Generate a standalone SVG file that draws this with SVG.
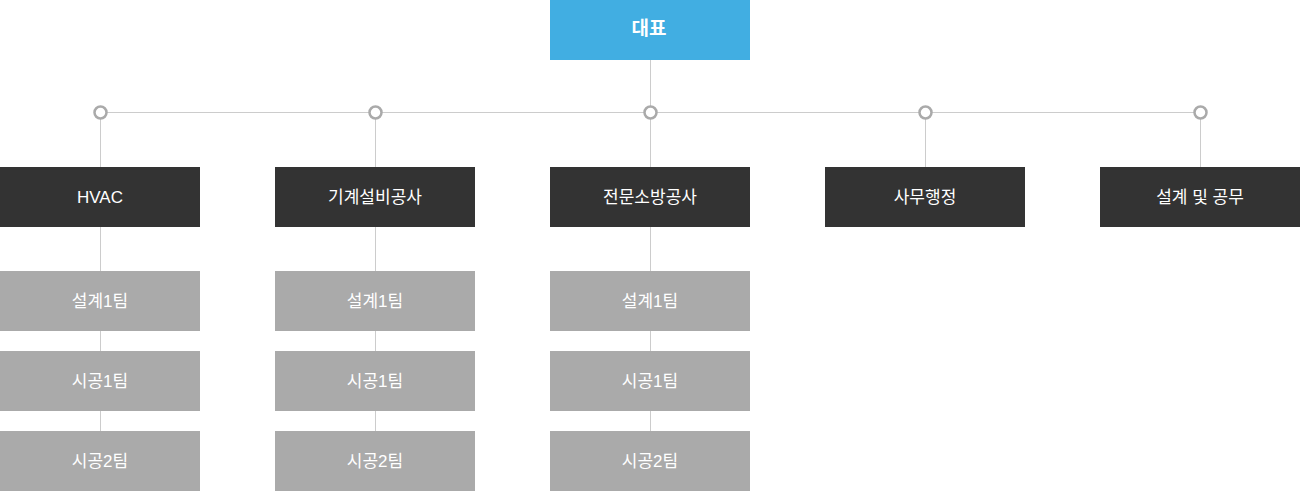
<svg xmlns="http://www.w3.org/2000/svg" width="1300" height="491" viewBox="0 0 1300 491">
<style>
.ln{stroke:#cccccc;stroke-width:1;fill:none}
.dot{fill:#ffffff;stroke:#aaaaaa;stroke-width:2.5}
.top{fill:#41aee2}
.mid{fill:#333333}
.low{fill:#aaaaaa}
text{font-family:"Liberation Sans","Noto Sans CJK KR",sans-serif;fill:#ffffff;text-anchor:middle;dominant-baseline:central;font-size:17px}
.en{font-size:17px}
.b{font-weight:bold;font-size:19px}
</style>
<rect width="1300" height="491" fill="#ffffff"/>
<g id="connectors">
<path class="ln" d="M650.5 60V167M100.5 112.5H1200.5M100.5 112.5V471M375.5 112.5V471M650.5 112.5V471M925.5 112.5V167M1200.5 112.5V167"/>
<circle class="dot" cx="100.5" cy="112.5" r="6"/>
<circle class="dot" cx="375.5" cy="112.5" r="6"/>
<circle class="dot" cx="650.5" cy="112.5" r="6"/>
<circle class="dot" cx="925.5" cy="112.5" r="6"/>
<circle class="dot" cx="1200.5" cy="112.5" r="6"/>
</g>
<g id="ceo"><rect class="top" x="550" y="0" width="200" height="60"/><text class="b" x="649" y="28">대표</text></g>
<g id="hvac"><rect class="mid" x="0" y="167" width="200" height="60"/><text class="en" x="100" y="197">HVAC</text></g>
<g id="mech"><rect class="mid" x="275" y="167" width="200" height="60"/><text x="375" y="197">기계설비공사</text></g>
<g id="fire"><rect class="mid" x="550" y="167" width="200" height="60"/><text x="650" y="197">전문소방공사</text></g>
<g id="admin"><rect class="mid" x="825" y="167" width="200" height="60"/><text x="925" y="197">사무행정</text></g>
<g id="design"><rect class="mid" x="1100" y="167" width="200" height="60"/><text x="1200" y="197">설계 및 공무</text></g>
<g id="hvac-d1"><rect class="low" x="0" y="271" width="200" height="60"/><text x="100" y="301">설계1팀</text></g>
<g id="hvac-c1"><rect class="low" x="0" y="351" width="200" height="60"/><text x="100" y="381">시공1팀</text></g>
<g id="hvac-c2"><rect class="low" x="0" y="431" width="200" height="60"/><text x="100" y="461">시공2팀</text></g>
<g id="mech-d1"><rect class="low" x="275" y="271" width="200" height="60"/><text x="375" y="301">설계1팀</text></g>
<g id="mech-c1"><rect class="low" x="275" y="351" width="200" height="60"/><text x="375" y="381">시공1팀</text></g>
<g id="mech-c2"><rect class="low" x="275" y="431" width="200" height="60"/><text x="375" y="461">시공2팀</text></g>
<g id="fire-d1"><rect class="low" x="550" y="271" width="200" height="60"/><text x="650" y="301">설계1팀</text></g>
<g id="fire-c1"><rect class="low" x="550" y="351" width="200" height="60"/><text x="650" y="381">시공1팀</text></g>
<g id="fire-c2"><rect class="low" x="550" y="431" width="200" height="60"/><text x="650" y="461">시공2팀</text></g>
</svg>
